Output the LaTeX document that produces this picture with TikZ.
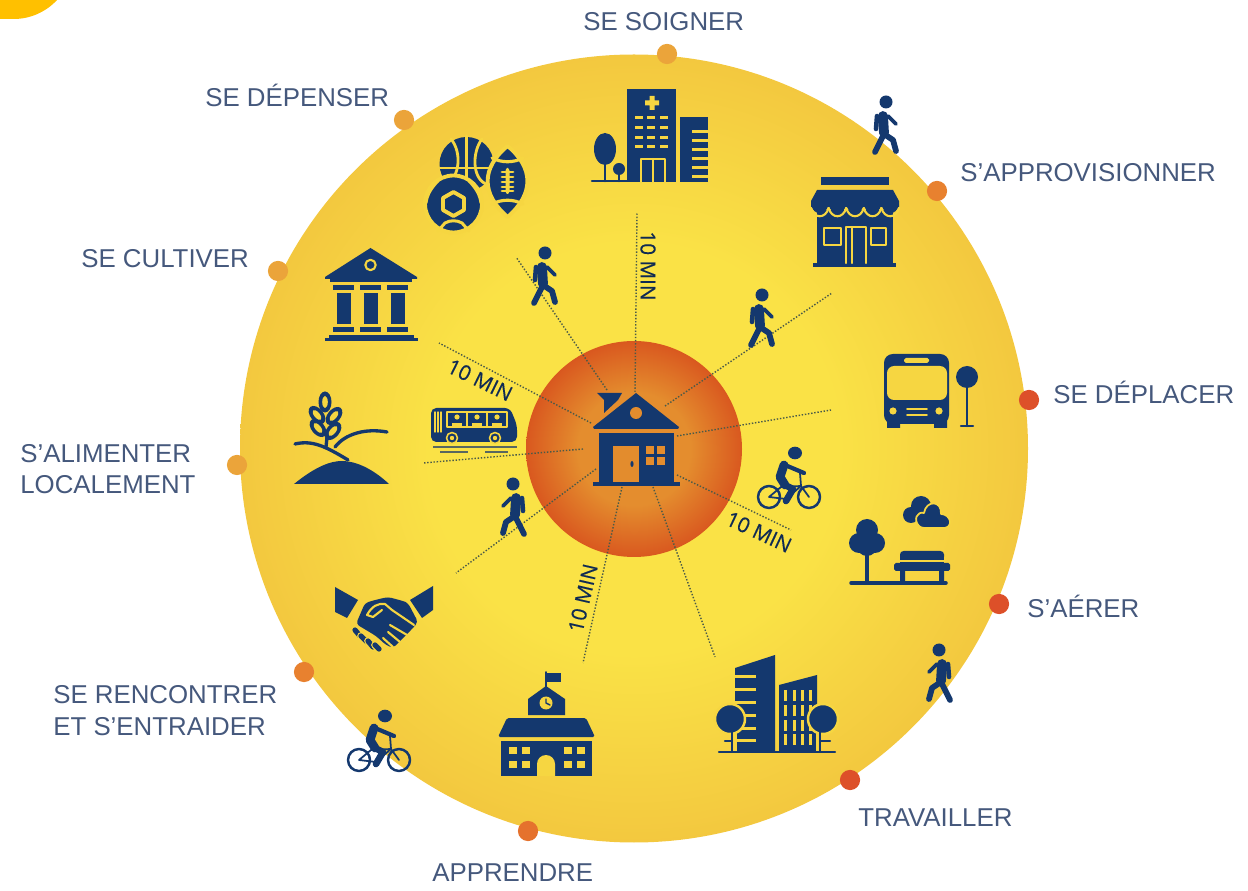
\documentclass[tikz,border=0pt]{standalone}
\usepackage{fontspec}
\setmainfont{Liberation Sans}
\newfontfamily\minfont[FakeBold=0.35]{Open Sans}
\definecolor{navy}{HTML}{14386E}
\definecolor{sunny}{HTML}{F6D641}
\definecolor{sunmid}{HTML}{FAE246}
\definecolor{sunrim}{HTML}{F3C83F}
\definecolor{embermid}{HTML}{E48D2E}
\definecolor{emberrim}{HTML}{D9581F}
\definecolor{housecut}{HTML}{E38C2D}
\definecolor{labelblue}{HTML}{45587C}
\definecolor{spokeline}{HTML}{4A5A48}
\definecolor{dotamber}{HTML}{EBA43A}
\definecolor{dotorange}{HTML}{E8812F}
\definecolor{dotred}{HTML}{DD5029}
\definecolor{cornerblob}{HTML}{FFC000}
\pgfdeclareradialshading{sundisc}{\pgfpointorigin}{color(0bp)=(sunmid); color(13bp)=(sunmid); color(25bp)=(sunrim); color(50bp)=(sunrim)}
\pgfdeclareradialshading{emberdisc}{\pgfpointorigin}{color(0bp)=(embermid); color(13bp)=(embermid); color(25bp)=(emberrim); color(50bp)=(emberrim)}
\tikzset{
	ink/.style={fill=navy},
	cut/.style={fill=sunny},
	line/.style={draw=navy, line width=#1, line cap=round, line join=round},
	gap/.style={draw=sunny, line width=#1, line cap=round, line join=round},
	spoke/.style={draw=spokeline, line width=.8pt, densely dotted},
	stopdot/.style={circle, inner sep=0pt, minimum size=11.5pt},
	caption/.style={text=labelblue, inner sep=0pt, anchor=base west, font=\fontsize{14.7}{16}\selectfont},
	minutes/.style={text=navy!75!black, inner sep=0pt, font=\minfont\fontsize{11.8}{13}\selectfont},
	walker/.pic={
		\fill[ink] (1,-23) circle (6.5);
		\draw[line=5.6pt] (-2,-9) -- (-1,8);
		\draw[line=2.6pt] (-8,-9) -- (-9,4);
		\draw[line=2.2pt] (3,-9) -- (11,-1);
		\draw[line=3.3pt] (-1,9) -- (8,15) -- (11,26);
		\draw[line=3.3pt] (-1,9) -- (-5,17) -- (-10,27);
	},
	cyclist/.pic={
		\fill[ink] (7,-27) ellipse (7 and 6.3);
		\draw[line=1.4pt] (-19,17) circle (11) (21,17) circle (11);
		\draw[line=1pt] (-19,17) -- (-7,7) -- (13,6) -- (21,17) (12,-7) -- (13,6) (-19,17) -- (-2,19) -- (13,6);
		\draw[line=2.4pt] (-3,-15) -- (16,-7);
		\draw[line=5pt] (-4,-15) -- (-8,-3) -- (-3,5);
		\draw[line=3.8pt] (-3,5) -- (5,9) -- (-2,21);
	},
}

\begin{document}
\begin{tikzpicture}[x=.02cm, y=-.02cm]
	\useasboundingbox (0,0) rectangle (1248,891);
	\fill[cornerblob] (0,0) -- (57,0) .. controls (46,12) and (30,19) .. (14,19) -- (0,19) -- cycle;
	\shade[shading=sundisc] (634,448.5) circle (394);
	\shade[shading=emberdisc] (634,449) circle (108);

	\foreach \i/\ax/\ay/\bx/\by in {1/635/392/637/213, 2/607/390/516/257, 3/665/406/832/293, 4/677/436/831/410, 5/677/475/791/530, 6/653/487/715/657, 7/622/487/583/663, 8/596/469/456/573, 9/583/449/423/463, 10/591/423/439/343} {
		\coordinate (in\i) at (\ax,\ay);
		\coordinate (out\i) at (\bx,\by);
		\draw[spoke] (in\i) -- (out\i);
	}

	\foreach \name/\x/\y/\col in {soigner/667/54/dotamber, appro/937/191/dotorange, deplacer/1029/400/dotred, aerer/999/604/dotred, travailler/850/780/dotred, apprendre/528/831/dotorange!70!dotred, rencontrer/304/672/dotorange, alimenter/237/465/dotamber, cultiver/278/271/dotamber, depenser/404/120/dotamber}
		\node[stopdot, fill=\col] (dot\name) at (\x,\y) {};

	\node[caption] (lblsoigner) at (583,31) {SE SOIGNER};
	\node[caption] (lblappro) at (960,182) {S’APPROVISIONNER};
	\node[caption] (lbldeplacer) at (1053,404) {SE DÉPLACER};
	\node[caption] (lblaerer) at (1027,618) {S’AÉRER};
	\node[caption] (lbltravailler) at (858,826) {TRAVAILLER};
	\node[caption] (lblapprendre) at (432,881) {APPRENDRE};
	\node[caption] (lblrencontrer) at (53,704) {SE RENCONTRER};
	\node[caption] (lblentraider) at (53,735) {ET S’ENTRAIDER};
	\node[caption] (lblalimenter) at (20,463) {S’ALIMENTER};
	\node[caption] (lbllocalement) at (20,494) {LOCALEMENT};
	\node[caption] (lblcultiver) at (81,268) {SE CULTIVER};
	\node[caption] (lbldepenser) at (205,107) {SE DÉPENSER};

	\node[minutes, rotate=-90] (minnorth) at (648,266) {10 MIN};
	\node[minutes, rotate=-26] (minwest) at (480,380) {10 MIN};
	\node[minutes, rotate=-25] (mineast) at (759,532) {10 MIN};
	\node[minutes, rotate=77] (minsouth) at (583,598) {10 MIN};

	\pic at (544,276) {walker};
	\pic at (761,318) {walker};
	\pic at (885,125) {walker};
	\pic[xscale=-1] at (940,673) {walker};
	\pic[xscale=-1] at (514,507) {walker};
	\pic at (788,480) {cyclist};
	\pic at (378,743) {cyclist};

	% house
	\fill[ink] (597,393) -- (622,393) -- (618,400) -- (604,413) -- (604,400) -- cycle;
	\fill[ink] (636,393) -- (679,427) -- (678,429) -- (594,429) -- (593,427) -- cycle;
	\fill[ink] (599,433) rectangle (674,482);
	\fill[ink] (593,482) rectangle (680,486);
	\fill[housecut] (636,413) circle (6);
	\fill[housecut] (613,446) rectangle (639,482);
	\fill[ink] (632,464) ellipse (1.6 and 3);
	\foreach \x in {646,657} \foreach \y in {446,457} \fill[housecut] (\x,\y) rectangle +(8,8);

	% hospital
	\fill[ink] (627,89) rectangle (676,182);
	\fill[ink] (680,117) rectangle (708,182);
	\foreach \y in {130,139,148,157,166,175} \fill[cut] (692,\y) rectangle (708,\y+2.6);
	\fill[cut] (649.5,96) rectangle (654.5,110) (645,100.5) rectangle (659,105.5);
	\foreach \x in {635,647,660} \foreach \y in {116,126,136,145} \fill[cut] (\x,\y) rectangle +(8,3);
	\draw[gap=1.4pt] (641,182) -- (641,159) -- (665,159) -- (665,182) (653,159) -- (653,182);
	\fill[ink] (605,149) ellipse (11 and 16);
	\fill[ink] (619,169) circle (6);
	\draw[line=1.5pt] (605,155) -- (605,181) (619,169) -- (619,181) (592,181) -- (627,181);

	% shop
	\fill[ink] (821,177) rectangle (889,185);
	\fill[ink] (817,190) -- (893,190) -- (899,201) -- (899,207) -- (811,207) -- (811,201) -- cycle;
	\fill[ink] (816.5,210) rectangle (892.5,264);
	\fill[ink] (813,263) rectangle (896,267);
	\foreach \i in {0,...,4} {
		\fill[ink] (811+\i*17.6,205) .. controls +(3,11) and +(-3,11) .. +(17.6,0);
		\draw[gap=1.2pt] (811+\i*17.6,208) .. controls +(3,11) and +(-3,11) .. +(17.6,0);
	}
	\draw[gap=1.4pt] (824,228) rectangle (841,245) (871,228) rectangle (886,245);
	\draw[gap=1.4pt] (846,263) -- (846,227) -- (866,227) -- (866,263) (852,227) -- (852,263);

	% bus at its stop
	\fill[ink, rounded corners=5pt] (884,354) rectangle (949,424);
	\fill[ink] (887,418) rectangle (900,428) (934,418) rectangle (947,428);
	\fill[cut, rounded corners=4pt] (887,366) rectangle (947,400);
	\fill[cut, rounded corners=1pt] (904,358) rectangle (929,363);
	\fill[cut] (893,411) circle (3.6) (939,411) circle (3.6);
	\draw[gap=1pt] (907,409) -- (927,409) (907,415) -- (927,415);
	\fill[ink] (967,377) circle (11);
	\draw[line=1.3pt] (967,377) -- (967,426) (961,426) -- (973,426);

	% park
	\fill[ink] (911,515) circle (8) (921,506) circle (10) (930,515) circle (8);
	\draw[gap=1pt, fill=navy] (919,526) .. controls (913,520) and (917,511) .. (924,513) .. controls (926,500) and (942,500) .. (941,514) .. controls (950,514) and (954,526) .. (945,528) -- (924,528) .. controls (922,528) and (920,527) .. (919,526) -- cycle;
	\fill[ink] (867,530) circle (11) (859,543) circle (10) (875,543) circle (10) (867,546) circle (10);
	\draw[line=2pt] (867,546) -- (867,582) (851,583) -- (946,583);
	\fill[ink, rounded corners=2pt] (900,551) rectangle (944,560);
	\fill[ink, rounded corners=1pt] (894,563) rectangle (950,571);
	\fill[ink] (900,571) rectangle (905,583) (939,571) rectangle (944,583);
	\fill[ink] (900,557) rectangle (944,564);
	\draw[gap=1.2pt] (899,561) -- (945,561);

	% offices
	\fill[ink] (735,668) -- (775,655) -- (775,752) -- (735,752) -- cycle;
	\foreach \y in {675,688,701,714,727,739} \fill[cut] (735,\y) rectangle (756,\y+2.8);
	\fill[ink] (779,685) -- (817,675) -- (817,752) -- (779,752) -- cycle;
	\foreach \x in {784,792.5,801,809} \foreach \y in {690,705,720,734} \fill[cut] (\x,\y) rectangle +(3,11);
	\draw[gap=1.4pt, fill=navy] (730,719) circle (15) (823,719) circle (15);
	\draw[gap=1.4pt] (736,733) -- (736,752) (817,733) -- (817,752);
	\draw[line=1.3pt] (732,725) -- (732,751) (820,725) -- (820,751) (725,741) -- (732,741) (820,741) -- (830,741) (719,752) -- (835,752);

	% school
	\draw[line=1.1pt] (546,672) -- (546,688);
	\fill[ink] (546,673) rectangle (561,682);
	\fill[ink] (546,686) -- (565,699) -- (565,715) -- (528,715) -- (528,699) -- cycle;
	\fill[ink, rounded corners=1pt] (507,718) -- (586,718) -- (595,737) -- (498,737) -- cycle;
	\fill[ink] (501,741) rectangle (592,776);
	\fill[cut] (546,703) circle (6.5);
	\draw[line=.8pt] (546,699) -- (546,703) -- (550,705);
	\fill[cut] (537,776) -- (537,764) arc (180:360:9) -- (555,776) -- cycle;
	\foreach \x in {509,522,564,577} \foreach \y in {747,761} \fill[cut] (\x,\y) rectangle +(7.5,7);

	% handshake
	\fill[ink] (335,587) -- (358,600) -- (347,618) -- (335,612) -- cycle;
	\fill[ink] (433,586) -- (410,600) -- (422,618) -- (433,610) -- cycle;
	\foreach \ax/\ay/\bx/\by in {355/630/360/636, 361/636/367/642, 368/641/373/647, 375/645/379/649} {
		\draw[gap=4.4pt] (\ax,\ay) -- (\bx,\by);
		\draw[line=3pt] (\ax,\ay) -- (\bx,\by);
	}
	\fill[ink, rounded corners=2pt] (365,603) -- (375,600) -- (388,597) -- (403,601) -- (408,603) -- (418,622) -- (413,628) -- (393,648) -- (386,645) -- (376,636) -- (356,624) -- cycle;
	\draw[gap=1.2pt] (382,610) -- (373,617) -- (367,615) .. controls (372,606) and (378,603) .. (385,604) -- (392,610) -- (414,625);
	\draw[gap=1.2pt] (390,625) -- (407,635) (388,632) -- (400,642) (383,638) -- (393,647);

	% wheat
	\fill[ink] (294,484) .. controls (315,467) and (330,461) .. (342,461) .. controls (355,461) and (372,468) .. (389,484) -- cycle;
	\draw[line=1.9pt] (295,444) .. controls (312,440) and (325,446) .. (348,460);
	\draw[line=1.9pt] (335,447) .. controls (345,434) and (365,428) .. (387,432);
	\draw[line=1.9pt] (327,437) -- (326,447);
	\foreach \gx/\gy/\ga in {325/402/0, 317/415/40, 334/416/-40, 318/428/40, 333/431/-40} {
		\fill[ink, rotate around={\ga:(\gx,\gy)}] (\gx,\gy) ellipse (6.5 and 10.5);
		\fill[cut, rotate around={\ga:(\gx,\gy)}] (\gx,\gy) ellipse (2.8 and 6);
	}

	% museum
	\fill[ink] (370.5,248) -- (417,277) -- (417,279) -- (325,279) -- (325,277) -- cycle;
	\fill[ink] (330,279) rectangle (412,282);
	\draw[gap=1.2pt] (370.5,265) circle (5.2);
	\foreach \x in {333,360,387} {
		\fill[ink] (\x,285) rectangle +(21,5);
		\fill[ink] (\x+3.5,293) rectangle +(14,31);
		\fill[ink] (\x,327) rectangle +(21,5);
	}
	\fill[ink] (329,335) rectangle (414,338);
	\fill[ink] (325,338) rectangle (418,341);

	% sports balls
	\fill[ink] (466.5,164) circle (27);
	\draw[gap=1.6pt] (466.5,136) -- (466.5,190) (440,168) -- (493,168);
	\draw[gap=1.6pt] (451,139) .. controls (462,152) and (460,178) .. (446,184) (482,139) .. controls (472,152) and (472,178) .. (486,184);
	\draw[gap=2.2pt, fill=navy] (507.6,146) .. controls (534,168) and (534,194) .. (507.6,217) .. controls (481,194) and (481,168) .. (507.6,146) -- cycle;
	\draw[gap=1.8pt] (492,158) .. controls (502,163) and (513,163) .. (523,158) (492,204) .. controls (502,199) and (513,199) .. (523,204);
	\fill[cut, rounded corners=1.5pt] (505.5,168) rectangle (509.5,194);
	\foreach \y in {172,177,182,187,191} \draw[gap=1.7pt] (502,\y) -- (513,\y);
	\draw[gap=2.2pt, fill=navy] (453.5,204) circle (28.5);
	\draw[gap=2.2pt] (453.5,192) -- (464,198) -- (464,210) -- (453.5,216) -- (443,210) -- (443,198) -- cycle;
	\draw[gap=1.7pt] (438,181) .. controls (431,188) and (427,195) .. (426,203) (469,181) .. controls (476,188) and (480,195) .. (481,203);
	\draw[gap=1.7pt] (438,231) -- (445,223) .. controls (450,220) and (457,220) .. (462,223) -- (469,231);

	% little bus
	\fill[ink, rounded corners=3pt] (431,408) -- (510,408) -- (517,425) -- (517,442) -- (431,442) -- cycle;
	\draw[gap=.8pt] (447,412) rectangle (507,427) (467,412) -- (467,427) (487,412) -- (487,427);
	\foreach \x in {457,477,497} {
		\fill[cut] (\x,417) circle (2.6);
		\fill[cut] (\x-5,427) -- (\x-5,423) -- (\x+5,423) -- (\x+5,427) -- cycle;
	}
	\draw[gap=.8pt] (435,412) -- (435,432) (438,412) -- (438,432) (441,412) -- (441,432);
	\draw[gap=.9pt, fill=navy] (452,438) circle (5.5) (495,438) circle (5.5);
	\fill[cut] (452,438) circle (2.2) (495,438) circle (2.2);
	\draw[draw=navy!70!sunny, line width=1pt] (433,447) -- (517,447);
	\draw[draw=navy!70!sunny, line width=1pt] (440,452) -- (468,452) (485,452) -- (508,452);
\end{tikzpicture}
\end{document}
